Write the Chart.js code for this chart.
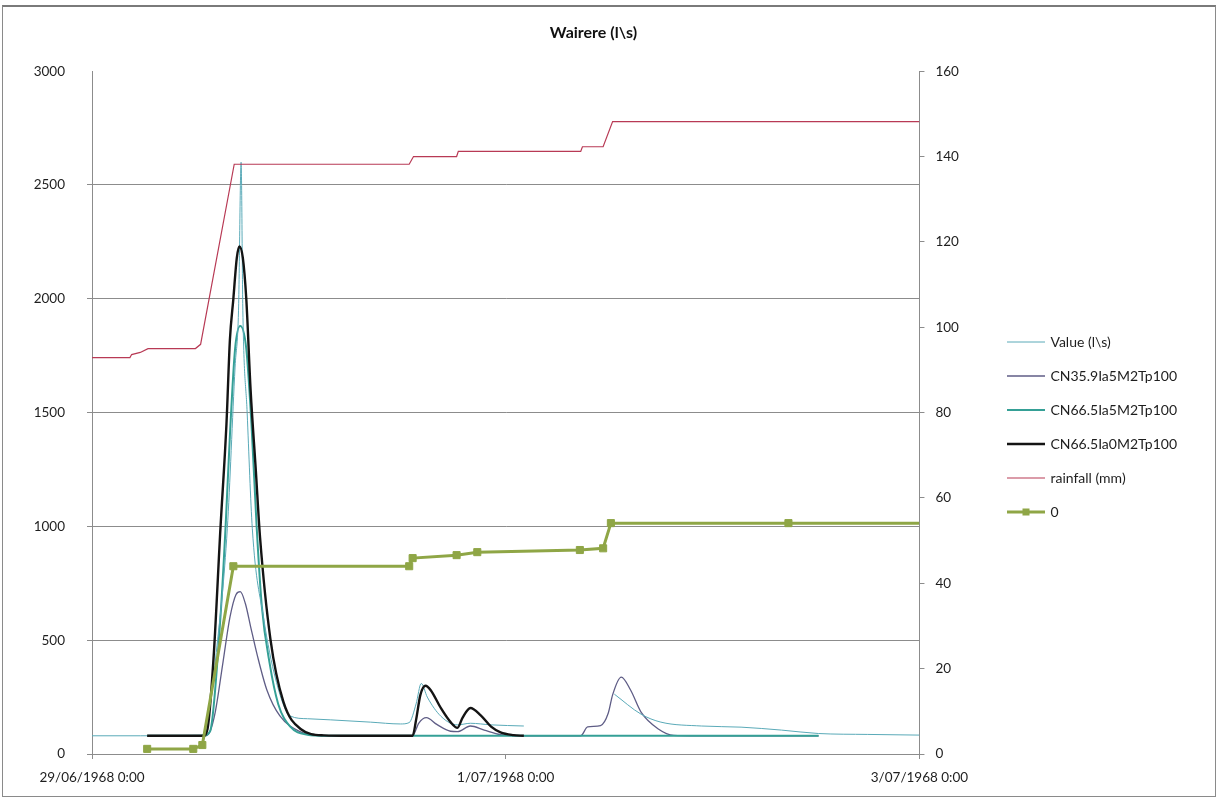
<!DOCTYPE html>
<html lang="en">
<head>
    <meta charset="UTF-8">
    <title>Wairere (l\s)</title>
    <script src="https://cdn.jsdelivr.net/npm/chart.js@4.4.0/dist/chart.umd.min.js"></script>
    <style>
        html, body {
            margin: 0;
            padding: 0;
            background: #fff;
        }
        .wrap {
            position: relative;
            width: 1219px;
            height: 801px;
        }
        canvas {
            position: absolute;
            left: 0;
            top: 0;
        }
        /* thin border round the whole chart */
        .frame {
            position: absolute;
            left: 2px;
            top: 5px;
            width: 1214px;
            height: 792px;
            border: 1px solid #8a8a8a;
            border-top: 2px solid #7a7a7a;
            box-sizing: border-box;
            pointer-events: none;
        }
    </style>
</head>
<body>
<div class="wrap">
    <canvas id="flowChart" width="1219" height="801"></canvas>
    <div class="frame"></div>
</div>

<script>
    // x values are hours since 29/06/1968 0:00
    const xTickLabels = ['29/06/1968 0:00', '1/07/1968 0:00', '3/07/1968 0:00'];

    // observed flow (l/s), null = no record
    const observedFlow = [
        [0, 80], [5.6, 80], [12.5, 82], [13.2, 110], [14.5, 475], [15.7, 990],
        [16.6, 1700], [17.0, 1950], [17.3, 2600], [17.5, 1950], [18.0, 1500],
        [18.6, 990], [19.9, 600], [21.3, 330], [23.0, 167], [25.0, 155],
        [27.7, 150], [32.3, 140], [35.8, 132], [36.8, 138], [37.6, 220],
        [38.2, 310], [38.9, 250], [40.5, 165], [42.4, 128], [43.9, 135],
        [46.3, 128], [50.1, 123], [50.2, null], [60.4, null], [60.6, 263],
        [63.7, 175], [66.0, 140], [70.7, 123], [75.3, 118], [80.0, 105],
        [84.3, 90], [90.0, 86], [96.0, 83]
    ];

    const cn359Ia5 = [
        [6.4, 80], [13.1, 80], [13.7, 100], [14.3, 184], [15.2, 404], [16.0, 600],
        [16.7, 700], [17.2, 713], [17.8, 660], [18.4, 560], [19.2, 430],
        [20.3, 280], [21.8, 167], [24.2, 97], [26.0, 82], [28.0, 80],
        [37.2, 80], [37.9, 135], [38.8, 160], [40.0, 130], [41.6, 100],
        [42.4, 98], [43.9, 123], [45.5, 105], [47.4, 85], [49.0, 80],
        [56.7, 80], [57.5, 119], [59.0, 125], [59.9, 180], [60.4, 260],
        [61.4, 338], [62.5, 280], [63.7, 184], [65.7, 110], [67.5, 82],
        [70.0, 80], [84.3, 80]
    ];

    const cn665Ia5 = [
        [6.4, 80], [12.9, 80], [13.7, 100], [14.9, 600], [15.5, 1000],
        [16.0, 1400], [16.6, 1780], [17.2, 1880], [17.9, 1780], [18.5, 1450],
        [19.1, 1000], [19.7, 650], [20.6, 400], [21.6, 220], [23.0, 120],
        [25.0, 85], [27.0, 80], [84.3, 80]
    ];

    const cn665Ia0 = [
        [6.4, 80], [12.9, 80], [13.4, 110], [14.1, 420], [14.9, 990],
        [15.6, 1450], [16.0, 1820], [16.4, 2000], [16.8, 2180], [17.1, 2230],
        [17.5, 2180], [17.9, 2000], [18.4, 1600], [19.0, 1250], [19.5, 950],
        [20.7, 505], [22.2, 230], [24.2, 110], [26.9, 82], [30.0, 80],
        [37.2, 80], [37.6, 150], [38.1, 260], [38.7, 300], [39.3, 280],
        [40.5, 200], [41.6, 140], [42.4, 115], [43.0, 160], [43.9, 202],
        [45.1, 170], [46.3, 120], [47.4, 95], [48.9, 83], [50.1, 80]
    ];

    // cumulative rainfall (mm), right axis
    const rainfall = [
        [0, 92.9], [4.4, 92.9], [4.6, 93.6], [5.6, 94.1], [6.5, 95.0],
        [12.0, 95.0], [12.6, 96.0], [16.5, 138.2], [36.8, 138.2],
        [37.3, 140.0], [42.3, 140.0], [42.5, 141.2], [56.7, 141.2],
        [56.9, 142.3], [59.3, 142.3], [60.4, 148.2], [96.0, 148.2]
    ];

    // event rainfall (mm), right axis, drawn with markers
    const eventRain = [
        [6.4, 1.2], [11.75, 1.2], [12.8, 2.1], [16.4, 44.0], [36.8, 44.0],
        [37.2, 45.9], [42.3, 46.6], [44.7, 47.3], [56.6, 47.8], [59.3, 48.2],
        [60.2, 54.1], [80.8, 54.1], [96.0, 54.1]
    ];

    const toPoints = pairs => pairs.map(([x, y]) => ({ x: x, y: y }));

    // small legend sample: a line, optionally with a square marker in the middle
    function legendIcon(color, width, marker) {
        const c = document.createElement('canvas');
        c.width = 38;
        c.height = 12;
        const g = c.getContext('2d');
        g.strokeStyle = color;
        g.lineWidth = width;
        g.beginPath();
        g.moveTo(0, 6);
        g.lineTo(38, 6);
        g.stroke();
        if (marker) {
            g.fillStyle = color;
            g.fillRect(15, 2.5, 7, 7);
        }
        return c;
    }

    const gridGrey = '#8c8c8c';
    Chart.defaults.font.family = 'Lato, "Open Sans", sans-serif';
    Chart.defaults.color = '#1e1e1e';

    const ctx = document.getElementById('flowChart').getContext('2d');
    new Chart(ctx, {
        type: 'line',
        data: {
            datasets: [
                {
                    label: 'Value (l\\s)',
                    data: toPoints(observedFlow),
                    borderColor: '#5aaab8',
                    borderWidth: 1,
                    cubicInterpolationMode: 'monotone',
                    yAxisID: 'y',
                    order: 3
                },
                {
                    label: 'CN35.9Ia5M2Tp100',
                    data: toPoints(cn359Ia5),
                    borderColor: '#5f5d86',
                    borderWidth: 1.3,
                    cubicInterpolationMode: 'monotone',
                    yAxisID: 'y',
                    order: 5
                },
                {
                    label: 'CN66.5Ia5M2Tp100',
                    data: toPoints(cn665Ia5),
                    borderColor: '#35a096',
                    borderWidth: 2,
                    cubicInterpolationMode: 'monotone',
                    yAxisID: 'y',
                    order: 4
                },
                {
                    label: 'CN66.5Ia0M2Tp100',
                    data: toPoints(cn665Ia0),
                    borderColor: '#141414',
                    borderWidth: 2.4,
                    cubicInterpolationMode: 'monotone',
                    yAxisID: 'y',
                    order: 2
                },
                {
                    label: 'rainfall (mm)',
                    data: toPoints(rainfall),
                    borderColor: '#b83a55',
                    borderWidth: 1.2,
                    yAxisID: 'y2',
                    order: 1
                },
                {
                    label: '0',
                    data: toPoints(eventRain),
                    borderColor: '#8fa646',
                    backgroundColor: '#8fa646',
                    borderWidth: 3,
                    pointStyle: 'rect',
                    pointRadius: c => (c.raw && c.raw.x < 96 ? 5 : 0),
                    pointBorderWidth: 1,
                    yAxisID: 'y2',
                    order: 0
                }
            ]
        },
        options: {
            responsive: false,
            animation: false,
            spanGaps: false,
            elements: {
                point: { radius: 0, hoverRadius: 0 },
                line: { tension: 0 }
            },
            layout: {
                padding: { top: 10, right: 32, bottom: 15, left: 0 }
            },
            plugins: {
                tooltip: { enabled: false },
                title: {
                    display: true,
                    text: 'Wairere (l\\s)',
                    color: '#111',
                    font: { size: 16, weight: 'bold' },
                    padding: { top: 13, bottom: 29 }
                },
                legend: {
                    position: 'right',
                    align: 'center',
                    title: {
                        display: true,
                        text: '',
                        font: { size: 10 },
                        padding: { top: 23, bottom: 23 }
                    },
                    labels: {
                        usePointStyle: true,
                        pointStyleWidth: 34,
                        boxHeight: 12,
                        padding: 20,
                        color: '#1e1e1e',
                        font: { size: 14 },
                        generateLabels(chart) {
                            return chart.data.datasets.map((ds, i) => ({
                                text: ds.label,
                                datasetIndex: i,
                                hidden: false,
                                fontColor: '#1e1e1e',
                                strokeStyle: ds.borderColor,
                                lineWidth: 0,
                                pointStyle: legendIcon(ds.borderColor, ds.label === '0' ? 3 : ds.borderWidth, ds.label === '0')
                            }));
                        }
                    }
                }
            },
            scales: {
                x: {
                    type: 'linear',
                    min: 0,
                    max: 96,
                    afterFit: axis => { axis.height = 32; },
                    ticks: {
                        stepSize: 48,
                        padding: 11,
                        font: { size: 13.5 },
                        maxRotation: 0,
                        callback: (value, index) => xTickLabels[index]
                    },
                    grid: {
                        drawOnChartArea: false,
                        tickLength: 5,
                        color: gridGrey
                    },
                    border: { color: gridGrey }
                },
                y: {
                    position: 'left',
                    min: 0,
                    max: 3000,
                    afterFit: axis => { axis.width = 92; },
                    ticks: {
                        stepSize: 500,
                        padding: 22,
                        font: { size: 13.5 },
                        callback: value => String(value)
                    },
                    grid: {
                        tickLength: 5,
                        color: c => (c.tick && c.tick.value === 3000 ? 'rgba(0,0,0,0)' : gridGrey)
                    },
                    border: { color: gridGrey }
                },
                y2: {
                    position: 'right',
                    min: 0,
                    max: 160,
                    afterFit: axis => { axis.width = 70; },
                    ticks: {
                        stepSize: 20,
                        padding: 11,
                        font: { size: 13.5 },
                        callback: value => String(value)
                    },
                    grid: {
                        drawOnChartArea: false,
                        tickLength: 5,
                        color: gridGrey
                    },
                    border: { color: gridGrey }
                }
            }
        }
    });
</script>
</body>
</html>
